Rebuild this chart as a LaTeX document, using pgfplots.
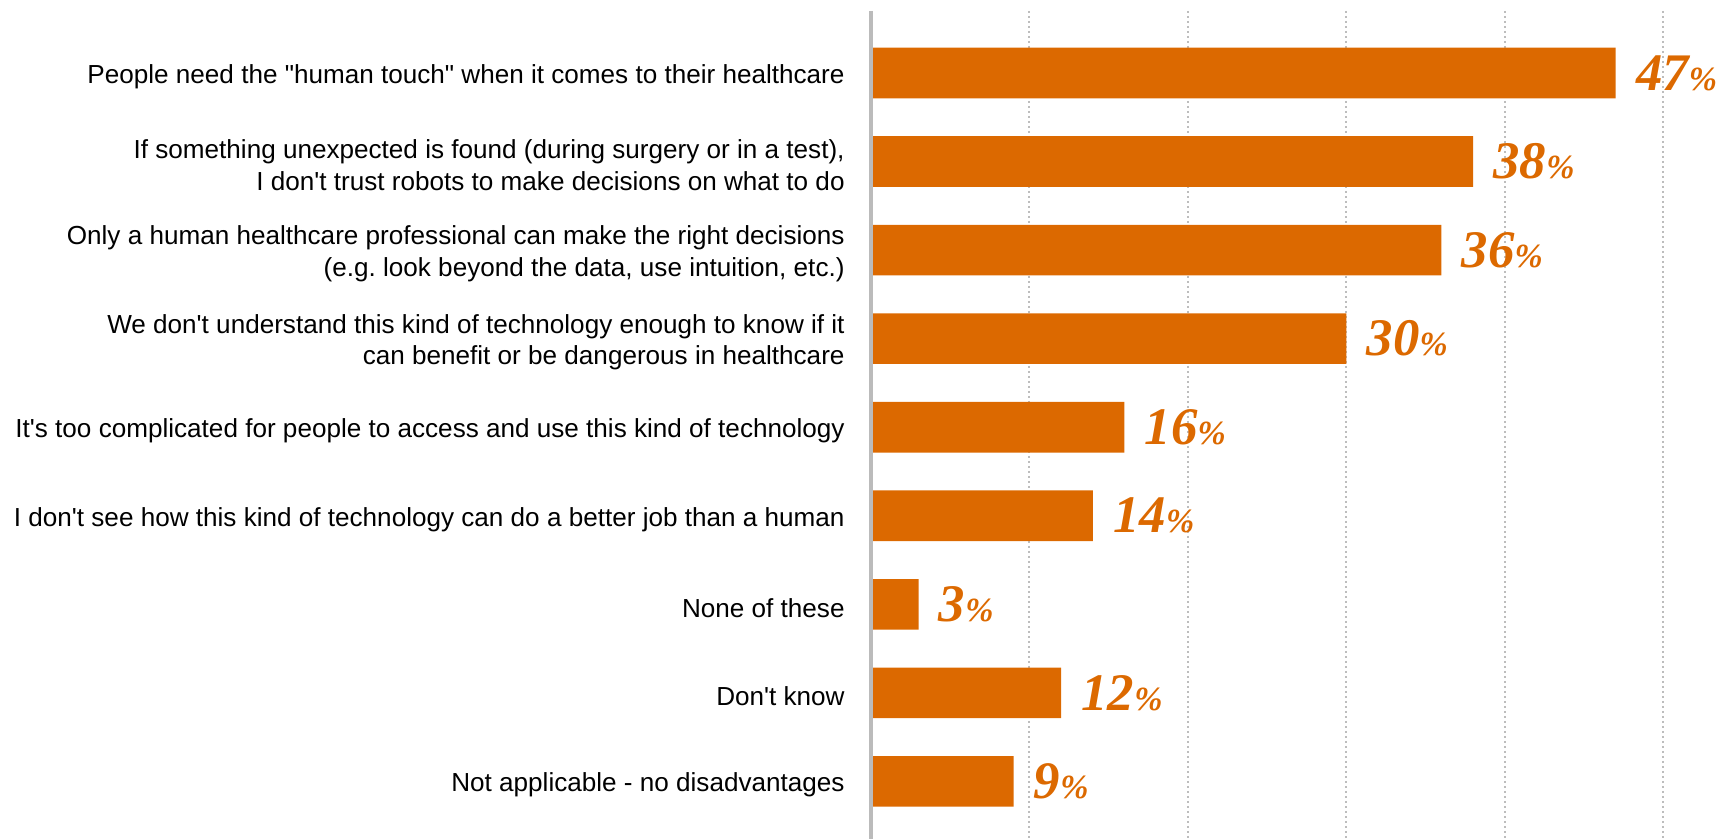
\documentclass[border=0pt]{standalone}
\usepackage{fontspec}
\usepackage{pgfplots}
\pgfplotsset{compat=1.18}
\setmainfont{Liberation Sans}
\newfontfamily\labfont{Liberation Sans}
\newfontfamily\valfont{Liberation Serif}
\definecolor{barorange}{HTML}{DC6900}
\definecolor{axgray}{HTML}{BBBBBB}
\definecolor{gridgray}{HTML}{BDBDBD}
\frenchspacing
\begin{document}
\begin{tikzpicture}
\begin{axis}[
  width=427bp, height=414bp, scale only axis, clip=false,
  xmin=0, xmax=53.9, ymin=-0.7, ymax=8.65, y dir=reverse,
  xbar, bar width=25.3bp,
  axis line style={draw=none},
  xtick={10,20,30,40,50}, xticklabels={}, xmajorgrids,
  grid style={gridgray, line width=1bp, dash pattern=on 1bp off 1.5bp},
  ytick={0,...,8},
  yticklabels={
    {People need the "human touch" when it comes to their healthcare},
    {If something unexpected is found (during surgery or in a test),\\I don't trust robots to make decisions on what to do},
    {Only a human healthcare professional can make the right decisions\\(e.g. look beyond the data, use intuition, etc.)},
    {We don't understand this kind of technology enough to know if it \\can benefit or be dangerous in healthcare},
    {It's too complicated for people to access and use this kind of technology},
    {I don't see how this kind of technology can do a better job than a human},
    {None of these},
    {Don't know},
    {Not applicable - no disadvantages}},
  major tick length=0pt,
  yticklabel style={align=right, font=\labfont\frenchspacing\fontsize{13.1}{16}\selectfont, inner sep=0pt, xshift=-13bp, yshift=-1.8bp},
  point meta=x,
  nodes near coords={\valfont\bfseries\itshape\fontsize{26.5}{26}\selectfont\pgfmathprintnumber[assume math mode=true]{\pgfplotspointmeta}{\fontsize{17}{17}\selectfont\%}},
  nodes near coords style={anchor=west, inner sep=0pt, xshift=10bp, text=barorange},
]
\addplot[fill=barorange, draw=none] coordinates {(47,0) (38,1) (36,2) (30,3) (16,4) (14,5) (3,6) (12,7) (9,8)};
\draw[axgray, line width=2bp] (axis cs:0,-0.7) -- (axis cs:0,8.65);
\coordinate (BL) at (axis cs:0,8.65);
\coordinate (TR) at (axis cs:53.9,-0.7);
\end{axis}
\pgfresetboundingbox
\path[use as bounding box] ([xshift=-435.5bp]BL) rectangle ([yshift=5.5bp]TR);
\end{tikzpicture}
\end{document}
